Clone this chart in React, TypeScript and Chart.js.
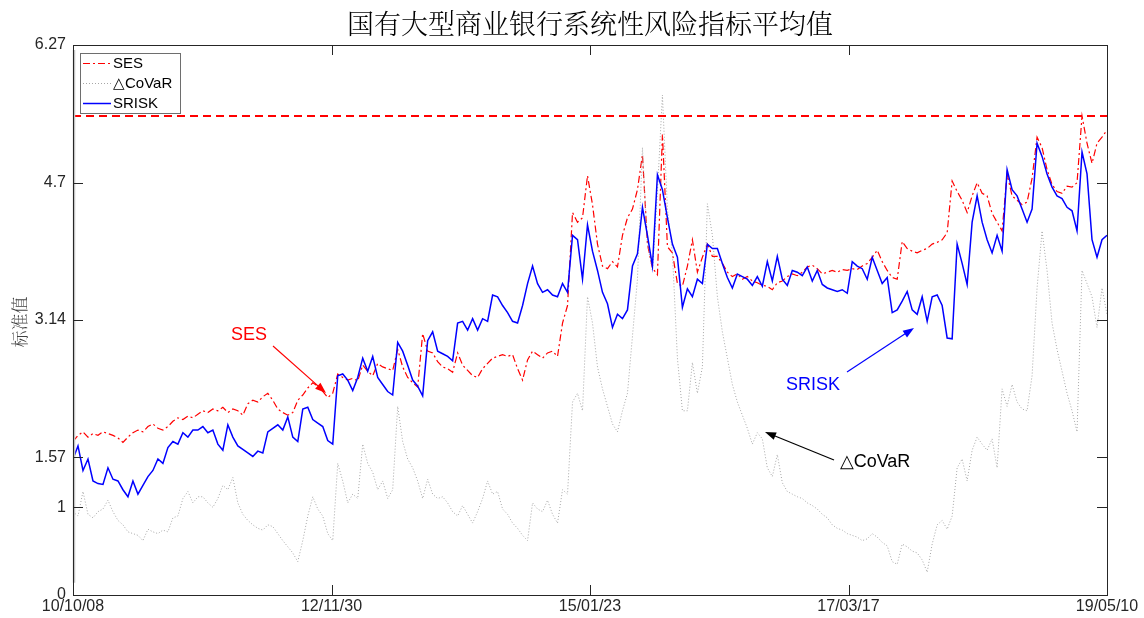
import React, { useEffect, useRef } from "react";
import { Chart, registerables } from "chart.js";

Chart.register(...registerables);

// Axis labelling
const chartTitle = "国有大型商业银行系统性风险指标平均值";
const yAxisTitle = "标准值";
const xTickLabels = ["10/10/08", "12/11/30", "15/01/23", "17/03/17", "19/05/10"];
const yTickValues = [0, 1, 1.57, 3.14, 4.7, 6.27];
const yTickLabels = ["0", "1", "1.57", "3.14", "4.7", "6.27"];
const yMax = 6.27;

// Alert threshold (dashed red line)
const warningLevel = 5.46;

// Standardised indicator values, sampled evenly over the trading days
const sesValues = [
  1.75, 1.82, 1.86, 1.80, 1.84, 1.82, 1.86, 1.84, 1.82, 1.79,
  1.74, 1.80, 1.85, 1.88, 1.86, 1.92, 1.95, 1.90, 1.88, 1.92,
  1.98, 2.02, 2.00, 2.04, 2.02, 2.06, 2.10, 2.08, 2.12, 2.10,
  2.14, 2.08, 2.12, 2.10, 2.05, 2.18, 2.22, 2.20, 2.26, 2.30,
  2.22, 2.12, 2.08, 2.05, 2.08, 2.22, 2.28, 2.36, 2.42, 2.38,
  2.32, 2.25, 2.30, 2.52, 2.48, 2.45, 2.47, 2.44, 2.62, 2.55,
  2.50, 2.64, 2.60, 2.58, 2.56, 2.80, 2.60, 2.48, 2.42, 2.37,
  2.98, 2.78, 2.76, 2.66, 2.60, 2.58, 2.54, 2.76, 2.62, 2.56,
  2.50, 2.48, 2.58, 2.64, 2.70, 2.72, 2.74, 2.72, 2.74, 2.58,
  2.45, 2.68, 2.78, 2.74, 2.70, 2.76, 2.78, 2.72, 3.10, 3.30,
  4.36, 4.25, 4.30, 4.78, 4.45, 4.00, 3.75, 3.72, 3.80, 3.74,
  4.10, 4.30, 4.40, 4.62, 5.02, 4.00, 3.73, 3.65, 5.25, 3.97,
  3.90, 3.55, 3.52, 3.75, 4.05, 3.68, 3.85, 4.00, 3.86, 3.86,
  3.78, 3.68, 3.63, 3.66, 3.60, 3.63, 3.58, 3.56, 3.53, 3.52,
  3.48, 3.56, 3.58, 3.63, 3.66, 3.64, 3.68, 3.74, 3.76, 3.72,
  3.66, 3.68, 3.70, 3.68, 3.71, 3.70, 3.72, 3.71, 3.75, 3.78,
  3.85, 3.93, 3.80, 3.70, 3.62, 3.60, 4.03, 3.95, 3.92, 3.90,
  3.93, 3.95, 4.00, 4.02, 4.05, 4.13, 4.72, 4.60, 4.50, 4.36,
  4.55, 4.70, 4.58, 4.55, 4.35, 4.25, 4.15, 4.80, 4.55, 4.50,
  4.45, 4.48, 4.75, 5.22, 5.10, 4.85, 4.68, 4.60, 4.58, 4.66,
  4.65, 4.70, 5.46, 5.15, 4.92, 5.15, 5.22, 5.30,
];

const covarValues = [
  0.95, 0.90, 1.18, 0.92, 0.88, 0.95, 0.98, 1.08, 0.95, 0.85,
  0.80, 0.72, 0.70, 0.68, 0.62, 0.75, 0.72, 0.70, 0.74, 0.72,
  0.88, 0.90, 1.10, 1.18, 1.05, 1.12, 1.12, 1.05, 1.00, 1.10,
  1.25, 1.20, 1.34, 1.05, 0.92, 0.85, 0.80, 0.76, 0.74, 0.80,
  0.78, 0.70, 0.62, 0.55, 0.48, 0.38, 0.62, 0.90, 1.12, 0.98,
  0.90, 0.70, 0.62, 1.50, 1.30, 1.05, 1.15, 1.10, 1.72, 1.50,
  1.40, 1.20, 1.30, 1.10, 1.20, 2.15, 1.75, 1.55, 1.45, 1.30,
  1.10, 1.32, 1.15, 1.10, 1.12, 1.05, 0.95, 0.90, 1.02, 0.92,
  0.82, 0.95, 1.10, 1.30, 1.15, 1.18, 0.98, 0.92, 0.82, 0.76,
  0.68, 0.62, 1.05, 0.98, 0.95, 1.08, 0.92, 0.82, 1.20, 1.15,
  2.20, 2.30, 2.10, 3.40, 3.10, 2.60, 2.35, 2.15, 1.95, 1.86,
  2.10, 2.30, 2.95, 3.60, 5.10, 4.00, 3.70, 4.60, 5.70, 4.40,
  3.90, 2.70, 2.10, 2.10, 2.65, 2.30, 2.60, 4.46, 4.10, 3.40,
  3.00, 2.70, 2.40, 2.20, 2.05, 1.90, 1.72, 1.85, 1.78, 1.45,
  1.35, 1.60, 1.28, 1.18, 1.15, 1.12, 1.10, 1.05, 1.02, 0.98,
  0.92, 0.88, 0.80, 0.76, 0.74, 0.70, 0.68, 0.66, 0.62, 0.64,
  0.70, 0.66, 0.60, 0.56, 0.38, 0.35, 0.58, 0.55, 0.50, 0.48,
  0.40, 0.26, 0.58, 0.80, 0.85, 0.75, 0.90, 1.45, 1.55, 1.30,
  1.65, 1.80, 1.72, 1.65, 1.78, 1.45, 2.35, 2.15, 2.40, 2.20,
  2.12, 2.10, 2.50, 3.50, 4.15, 3.70, 3.10, 2.80, 2.55, 2.30,
  2.10, 1.86, 3.70, 3.55, 3.40, 3.05, 3.50, 3.20,
];

const sriskValues = [
  1.55, 1.70, 1.42, 1.55, 1.30, 1.27, 1.26, 1.45, 1.32, 1.30,
  1.20, 1.12, 1.30, 1.15, 1.25, 1.35, 1.42, 1.55, 1.50, 1.68,
  1.75, 1.72, 1.85, 1.80, 1.88, 1.88, 1.92, 1.85, 1.88, 1.72,
  1.65, 1.94, 1.80, 1.70, 1.66, 1.62, 1.58, 1.64, 1.62, 1.86,
  1.90, 1.94, 1.88, 2.03, 1.80, 1.75, 2.12, 2.14, 2.00, 1.96,
  1.92, 1.76, 1.72, 2.50, 2.52, 2.45, 2.33, 2.48, 2.70, 2.55,
  2.72, 2.48, 2.40, 2.32, 2.28, 2.88, 2.78, 2.62, 2.45, 2.38,
  2.27, 2.90, 3.00, 2.78, 2.75, 2.72, 2.67, 3.10, 3.12, 3.02,
  3.15, 3.02, 3.15, 3.12, 3.42, 3.40, 3.30, 3.22, 3.12, 3.10,
  3.30, 3.55, 3.75, 3.55, 3.45, 3.48, 3.42, 3.40, 3.55, 3.45,
  4.10, 4.05, 3.60, 4.22, 3.92, 3.70, 3.45, 3.32, 3.05, 3.20,
  3.15, 3.25, 3.75, 3.89, 4.42, 4.10, 3.75, 4.79, 4.62, 4.30,
  4.00, 3.85, 3.28, 3.49, 3.40, 3.60, 3.55, 4.00, 3.95, 3.95,
  3.78, 3.62, 3.50, 3.66, 3.63, 3.60, 3.53, 3.63, 3.52, 3.80,
  3.58, 3.86, 3.60, 3.53, 3.70, 3.68, 3.64, 3.74, 3.58, 3.70,
  3.54, 3.50, 3.48, 3.46, 3.48, 3.44, 3.80, 3.75, 3.72, 3.60,
  3.85, 3.70, 3.55, 3.62, 3.22, 3.25, 3.35, 3.46, 3.25, 3.20,
  3.40, 3.12, 3.40, 3.42, 3.30, 2.93, 2.92, 4.00, 3.78, 3.54,
  4.25, 4.55, 4.25, 4.05, 3.90, 4.10, 3.92, 4.85, 4.62, 4.55,
  4.40, 4.25, 4.40, 5.15, 5.00, 4.80, 4.65, 4.55, 4.52, 4.42,
  4.38, 4.15, 5.05, 4.80, 4.05, 3.85, 4.05, 4.10,
];

const seriesNames = ["SES", "△CoVaR", "SRISK"];
const seriesColors = ["#ff0000", "#a6a6a6", "#0000ff"];
const seriesDashes: number[][] = [[7, 3, 2, 3], [1, 2], []];
const seriesWidths = [1.2, 1, 1.5];

const W = 1144;
const H = 618;
const PAD = { left: 73, right: 37, top: 45, bottom: 23 };
const TICK_LEN = 10;
const AXIS_FONT = '16px "Liberation Sans", Arial, sans-serif';
const CJK_FONT = '"Noto Serif CJK SC", "Noto Sans CJK SC", serif';

const toPoints = (vals: number[]) => vals.map((v, i) => ({ x: i, y: v }));

function drawArrow(
  ctx: CanvasRenderingContext2D,
  x1: number, y1: number, x2: number, y2: number, color: string
) {
  const ang = Math.atan2(y2 - y1, x2 - x1);
  const head = 11;
  const half = 4;
  ctx.save();
  ctx.strokeStyle = color;
  ctx.fillStyle = color;
  ctx.lineWidth = 1.2;
  ctx.beginPath();
  ctx.moveTo(x1, y1);
  ctx.lineTo(x2 - Math.cos(ang) * head * 0.8, y2 - Math.sin(ang) * head * 0.8);
  ctx.stroke();
  ctx.beginPath();
  ctx.moveTo(x2, y2);
  ctx.lineTo(
    x2 - Math.cos(ang) * head - Math.sin(ang) * half,
    y2 - Math.sin(ang) * head + Math.cos(ang) * half
  );
  ctx.lineTo(
    x2 - Math.cos(ang) * head + Math.sin(ang) * half,
    y2 - Math.sin(ang) * head - Math.cos(ang) * half
  );
  ctx.closePath();
  ctx.fill();
  ctx.restore();
}

// Frame, inward ticks, labels, legend and annotations in the style of a MATLAB figure
const figurePlugin = {
  id: "figureDecor",
  afterDraw(chart: any) {
    const ctx: CanvasRenderingContext2D = chart.ctx;
    const { left, right, top, bottom } = chart.chartArea;
    const xs = chart.scales.x;
    const ys = chart.scales.y;
    const n = sesValues.length;
    const xTickPos = xTickLabels.map((_, i) => (i * (n - 1)) / (xTickLabels.length - 1));

    ctx.save();

    // light band along the left edge
    ctx.strokeStyle = "#c4c4c4";
    ctx.lineWidth = 2.5;
    ctx.beginPath();
    ctx.moveTo(left + 1, top + 5);
    ctx.lineTo(left + 1, ys.getPixelForValue(0.14));
    ctx.stroke();

    // frame
    ctx.strokeStyle = "#262626";
    ctx.lineWidth = 1;
    ctx.strokeRect(Math.round(left) + 0.5, Math.round(top) + 0.5, Math.round(right - left), Math.round(bottom - top));

    // ticks
    ctx.beginPath();
    yTickValues.forEach((v) => {
      const py = Math.round(ys.getPixelForValue(v)) + 0.5;
      ctx.moveTo(left, py);
      ctx.lineTo(left + TICK_LEN, py);
      ctx.moveTo(right, py);
      ctx.lineTo(right - TICK_LEN, py);
    });
    xTickPos.forEach((p) => {
      const px = Math.round(xs.getPixelForValue(p)) + 0.5;
      ctx.moveTo(px, bottom);
      ctx.lineTo(px, bottom - TICK_LEN);
      ctx.moveTo(px, top);
      ctx.lineTo(px, top + TICK_LEN);
    });
    ctx.stroke();

    // tick labels
    ctx.fillStyle = "#262626";
    ctx.font = AXIS_FONT;
    ctx.textAlign = "right";
    ctx.textBaseline = "middle";
    yTickValues.forEach((v, i) => {
      ctx.fillText(yTickLabels[i], left - 7, ys.getPixelForValue(v));
    });
    ctx.textAlign = "center";
    ctx.textBaseline = "top";
    xTickPos.forEach((p, i) => {
      ctx.fillText(xTickLabels[i], xs.getPixelForValue(p), bottom + 4);
    });

    // title
    ctx.fillStyle = "#000000";
    ctx.font = "300 27px " + CJK_FONT;
    ctx.textAlign = "center";
    ctx.textBaseline = "middle";
    ctx.fillText(chartTitle, (left + right) / 2, 24);

    // y axis title
    ctx.save();
    ctx.translate(20, (top + bottom) / 2 + 2);
    ctx.rotate(-Math.PI / 2);
    ctx.fillStyle = "#404040";
    ctx.font = "300 17px " + CJK_FONT;
    ctx.fillText(yAxisTitle, 0, 0);
    ctx.restore();

    // legend
    const lx = left + 7;
    const ly = top + 8;
    const lw = 100;
    const lh = 60;
    ctx.fillStyle = "#ffffff";
    ctx.fillRect(lx, ly, lw, lh);
    ctx.strokeStyle = "#6e6e6e";
    ctx.lineWidth = 1;
    ctx.strokeRect(lx + 0.5, ly + 0.5, lw, lh);
    ctx.font = '15px "Liberation Sans", Arial, sans-serif';
    ctx.textAlign = "left";
    ctx.textBaseline = "middle";
    seriesNames.forEach((name, i) => {
      const yy = ly + 10 + i * 20;
      ctx.save();
      ctx.strokeStyle = seriesColors[i];
      ctx.lineWidth = seriesWidths[i];
      ctx.setLineDash(seriesDashes[i]);
      ctx.beginPath();
      ctx.moveTo(lx + 3, yy + 0.5);
      ctx.lineTo(lx + 31, yy + 0.5);
      ctx.stroke();
      ctx.restore();
      ctx.fillStyle = "#000000";
      ctx.fillText(name, lx + 33, yy + 1);
    });

    // annotations
    ctx.font = '18px "Liberation Sans", Arial, sans-serif';
    ctx.textAlign = "center";
    ctx.textBaseline = "middle";
    ctx.fillStyle = "#ff0000";
    ctx.fillText("SES", 249, 335);
    drawArrow(ctx, 273, 346, 326, 393, "#ff0000");
    ctx.fillStyle = "#0000ff";
    ctx.fillText("SRISK", 813, 385);
    drawArrow(ctx, 847, 372, 914, 328, "#0000ff");
    ctx.fillStyle = "#000000";
    ctx.fillText("△CoVaR", 875, 462);
    drawArrow(ctx, 834, 460, 765, 432, "#000000");

    ctx.restore();
  },
};

export default function App() {
  const canvasRef = useRef<HTMLCanvasElement | null>(null);

  useEffect(() => {
    const canvas = canvasRef.current;
    if (!canvas) return;
    const n = sesValues.length;
    const chart = new Chart(canvas, {
      type: "line",
      data: {
        datasets: [
          {
            label: seriesNames[0],
            data: toPoints(sesValues),
            borderColor: seriesColors[0],
            borderWidth: seriesWidths[0],
            borderDash: seriesDashes[0],
            order: 3,
          },
          {
            label: seriesNames[1],
            data: toPoints(covarValues),
            borderColor: seriesColors[1],
            borderWidth: seriesWidths[1],
            borderDash: seriesDashes[1],
            order: 2,
          },
          {
            label: seriesNames[2],
            data: toPoints(sriskValues),
            borderColor: seriesColors[2],
            borderWidth: seriesWidths[2],
            borderDash: seriesDashes[2],
            order: 1,
          },
          {
            label: "threshold",
            data: [
              { x: 0, y: warningLevel },
              { x: n - 1, y: warningLevel },
            ],
            borderColor: "#ff0000",
            borderWidth: 2,
            borderDash: [8, 5],
            order: 0,
          },
        ],
      },
      options: {
        responsive: false,
        maintainAspectRatio: false,
        animation: false,
        events: [],
        layout: { padding: PAD },
        elements: {
          point: { radius: 0 },
          line: { tension: 0, fill: false },
        },
        plugins: {
          legend: { display: false },
          title: { display: false },
          tooltip: { enabled: false },
        },
        scales: {
          x: { type: "linear", display: false, min: 0, max: n - 1 },
          y: { type: "linear", display: false, min: 0, max: yMax },
        },
      },
      plugins: [figurePlugin],
    });
    return () => chart.destroy();
  }, []);

  return (
    <div style={{ position: "fixed", left: 0, top: 0, width: W, height: H, background: "#ffffff" }}>
      <canvas ref={canvasRef} width={W} height={H} style={{ display: "block", width: W, height: H }} />
    </div>
  );
}
